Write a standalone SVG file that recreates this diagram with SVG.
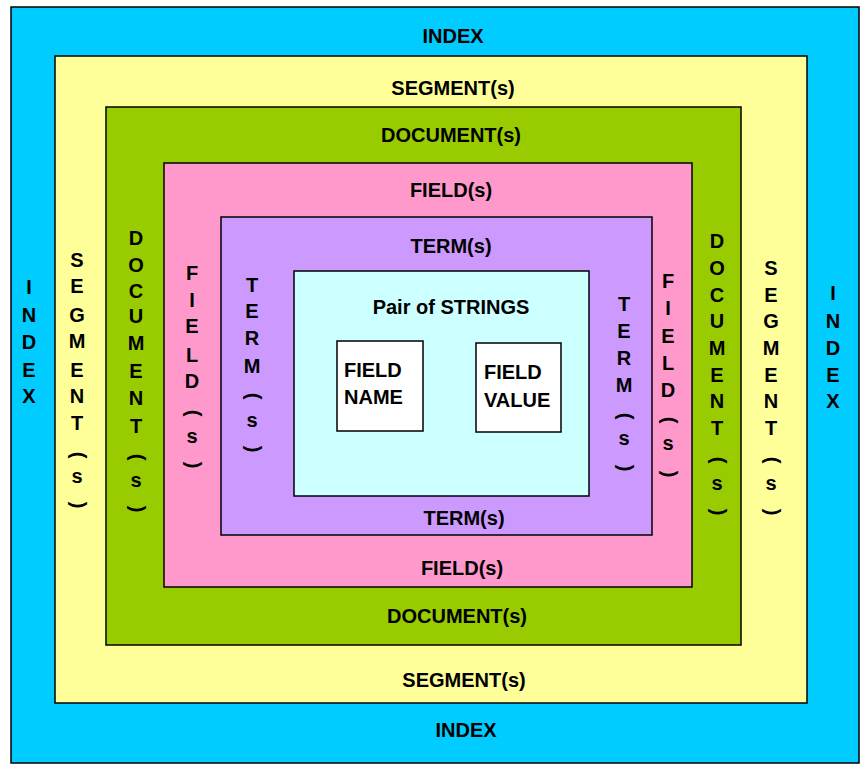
<svg xmlns="http://www.w3.org/2000/svg" width="861" height="764" viewBox="0 0 861 764">
<style>
  .t { font-family: "Liberation Sans", Arial, sans-serif; font-weight: bold; font-size: 20px; fill: #000; text-anchor: middle; }
  .tl { font-family: "Liberation Sans", Arial, sans-serif; font-weight: bold; font-size: 20px; fill: #000; }
  .box { stroke: #000; stroke-width: 1.5; }
</style>
<rect width="861" height="764" fill="#ffffff"/>

<g id="index">
  <rect class="box" x="11" y="7" width="848" height="756" fill="#00CCFF" stroke-width="2"/>
  <text class="t" x="453" y="43">INDEX</text>
  <text class="t" x="466" y="737">INDEX</text>
  <text class="t"><tspan x="29" y="294">I</tspan><tspan x="29" y="322">N</tspan><tspan x="29" y="349">D</tspan><tspan x="29" y="377">E</tspan><tspan x="29" y="403">X</tspan></text>
  <text class="t"><tspan x="833" y="300">I</tspan><tspan x="833" y="328">N</tspan><tspan x="833" y="355">D</tspan><tspan x="833" y="382">E</tspan><tspan x="833" y="408">X</tspan></text>
</g>

<g id="segment">
  <rect class="box" x="55" y="56" width="752" height="647" fill="#FFFF99" stroke="#333"/>
  <text class="t" x="453" y="95">SEGMENT(s)</text>
  <text class="t" x="464" y="687">SEGMENT(s)</text>
  <text class="t"><tspan x="77" y="267">S</tspan><tspan x="77" y="293">E</tspan><tspan x="77" y="322">G</tspan><tspan x="77" y="348">M</tspan><tspan x="77" y="377">E</tspan><tspan x="77" y="403">N</tspan><tspan x="77" y="430">T</tspan></text>
  <text class="t" x="77" y="460" transform="rotate(90 77 455)">(</text>
  <text class="t" x="77" y="483">s</text>
  <text class="t" x="77" y="510" transform="rotate(90 77 505)">)</text>
  <text class="t"><tspan x="771" y="275">S</tspan><tspan x="771" y="302">E</tspan><tspan x="771" y="328">G</tspan><tspan x="771" y="355">M</tspan><tspan x="771" y="382">E</tspan><tspan x="771" y="408">N</tspan><tspan x="771" y="435">T</tspan></text>
  <text class="t" x="771" y="465" transform="rotate(90 771 460)">(</text>
  <text class="t" x="771" y="490">s</text>
  <text class="t" x="771" y="517" transform="rotate(90 771 512)">)</text>
</g>

<g id="document">
  <rect class="box" x="106" y="107" width="635" height="538" fill="#99CC00" stroke="#333"/>
  <text class="t" x="451" y="142">DOCUMENT(s)</text>
  <text class="t" x="457" y="623">DOCUMENT(s)</text>
  <text class="t"><tspan x="136" y="245">D</tspan><tspan x="136" y="272">O</tspan><tspan x="136" y="298">C</tspan><tspan x="136" y="323">U</tspan><tspan x="136" y="350">M</tspan><tspan x="136" y="378">E</tspan><tspan x="136" y="405">N</tspan><tspan x="136" y="433">T</tspan></text>
  <text class="t" x="136" y="462" transform="rotate(90 136 457)">(</text>
  <text class="t" x="136" y="487">s</text>
  <text class="t" x="136" y="514" transform="rotate(90 136 509)">)</text>
  <text class="t"><tspan x="717" y="248">D</tspan><tspan x="717" y="275">O</tspan><tspan x="717" y="302">C</tspan><tspan x="717" y="328">U</tspan><tspan x="717" y="355">M</tspan><tspan x="717" y="382">E</tspan><tspan x="717" y="408">N</tspan><tspan x="717" y="435">T</tspan></text>
  <text class="t" x="717" y="465" transform="rotate(90 717 460)">(</text>
  <text class="t" x="717" y="490">s</text>
  <text class="t" x="717" y="517" transform="rotate(90 717 512)">)</text>
</g>

<g id="field">
  <rect class="box" x="164" y="163" width="528" height="424" fill="#FF99CC"/>
  <text class="t" x="451" y="197">FIELD(s)</text>
  <text class="t" x="462" y="575">FIELD(s)</text>
  <text class="t"><tspan x="192" y="280">F</tspan><tspan x="192" y="307">I</tspan><tspan x="192" y="333">E</tspan><tspan x="192" y="362">L</tspan><tspan x="192" y="388">D</tspan></text>
  <text class="t" x="192" y="418" transform="rotate(90 192 413)">(</text>
  <text class="t" x="192" y="443">s</text>
  <text class="t" x="192" y="470" transform="rotate(90 192 465)">)</text>
  <text class="t"><tspan x="668" y="288">F</tspan><tspan x="668" y="315">I</tspan><tspan x="668" y="343">E</tspan><tspan x="668" y="370">L</tspan><tspan x="668" y="397">D</tspan></text>
  <text class="t" x="668" y="425" transform="rotate(90 668 420)">(</text>
  <text class="t" x="668" y="450">s</text>
  <text class="t" x="668" y="479" transform="rotate(90 668 474)">)</text>
</g>

<g id="term">
  <rect class="box" x="221" y="217" width="431" height="318" fill="#CC99FF"/>
  <text class="t" x="451" y="253">TERM(s)</text>
  <text class="t" x="464" y="525">TERM(s)</text>
  <text class="t"><tspan x="252" y="292">T</tspan><tspan x="252" y="318">E</tspan><tspan x="252" y="345">R</tspan><tspan x="252" y="373">M</tspan></text>
  <text class="t" x="252" y="401" transform="rotate(90 252 396)">(</text>
  <text class="t" x="252" y="427">s</text>
  <text class="t" x="252" y="454" transform="rotate(90 252 449)">)</text>
  <text class="t"><tspan x="624" y="311">T</tspan><tspan x="624" y="338">E</tspan><tspan x="624" y="365">R</tspan><tspan x="624" y="392">M</tspan></text>
  <text class="t" x="624" y="421" transform="rotate(90 624 416)">(</text>
  <text class="t" x="624" y="445">s</text>
  <text class="t" x="624" y="473" transform="rotate(90 624 468)">)</text>
</g>

<g id="pair">
  <rect class="box" x="294" y="271" width="295" height="225" fill="#CCFFFF" stroke="#333"/>
  <text class="t" x="451" y="314">Pair of STRINGS</text>
</g>

<g id="field-name">
  <rect class="box" x="337" y="341" width="86" height="90" fill="#ffffff" stroke="#333"/>
  <text class="tl" x="344" y="377">FIELD</text>
  <text class="tl" x="344" y="404">NAME</text>
</g>

<g id="field-value">
  <rect class="box" x="476" y="343" width="85" height="89" fill="#ffffff" stroke="#333"/>
  <text class="tl" x="484" y="379">FIELD</text>
  <text class="tl" x="484" y="407">VALUE</text>
</g>

<g id="connectors"></g>
</svg>
